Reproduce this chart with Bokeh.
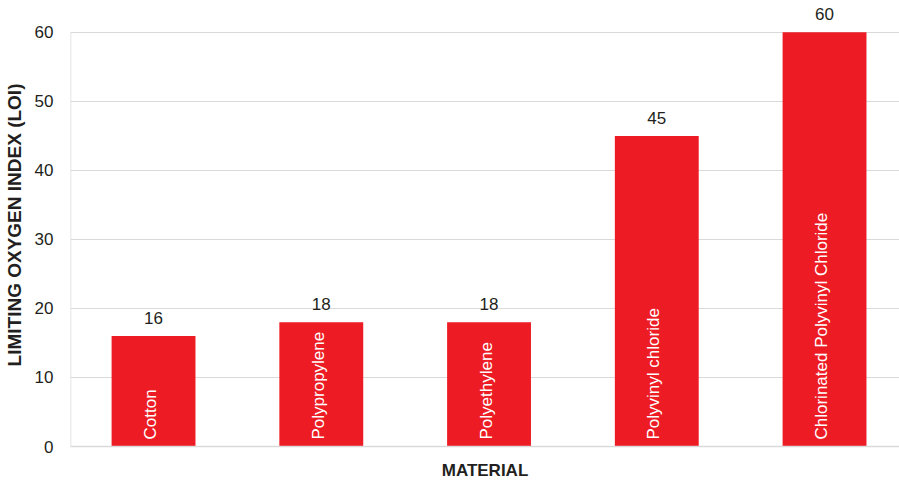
import math
from bokeh.plotting import figure
from bokeh.models import ColumnDataSource, LabelSet, Range1d, FixedTicker
from bokeh.core.properties import value
from bokeh.embed import file_html
from bokeh.resources import INLINE

materials = ["Cotton", "Polypropylene", "Polyethylene", "Polyvinyl chloride", "Chlorinated Polyvinyl Chloride"]
loi = [16, 18, 18, 45, 60]
y_ticks = [0, 10, 20, 30, 40, 50, 60]

RED = "#ED1C24"
TXT = "#231F20"
GRID = "#D9D9D9"
FONT = "Liberation Sans"

idx = list(range(len(materials)))
src = ColumnDataSource(dict(x=idx, top=loi, name=materials, lbl=[str(v) for v in loi], base=[0]*len(loi)))

x_start = -0.495
p = figure(width=899, height=483, output_backend="svg", toolbar_location=None,
           x_range=Range1d(x_start, x_start + 829/167.75), y_range=Range1d(0, 64.18),
           min_border_left=70, min_border_right=0, min_border_top=3, min_border_bottom=37)
p.outline_line_color = None
p.background_fill_color = "white"

p.vbar(x="x", top="top", width=0.5, source=src, fill_color=RED, line_color=None)
# left axis line, only up to the top tick
p.segment(x0=[x_start], y0=[y_ticks[0]], x1=[x_start], y1=[y_ticks[-1]], line_color=GRID, line_width=1.5)

p.add_layout(LabelSet(x="x", y="top", text="lbl", source=src, text_align="center",
                      text_baseline="bottom", y_offset=12, text_font=value(FONT),
                      text_font_size="17px", text_color=TXT))
p.add_layout(LabelSet(x="x", y="base", text="name", source=src, text_align="left",
                      text_baseline="middle", angle=math.pi/2, y_offset=7, x_offset=-3,
                      text_font=value(FONT), text_font_size="17px", text_color="white"))

p.xgrid.visible = False
p.ygrid.ticker = FixedTicker(ticks=y_ticks)
p.ygrid.grid_line_color = GRID
p.ygrid.grid_line_width = 1

ya = p.yaxis[0]
ya.ticker = FixedTicker(ticks=y_ticks)
ya.axis_line_color = None
ya.major_tick_line_color = None
ya.minor_tick_line_color = None
ya.major_label_text_font = FONT
ya.major_label_text_font_size = "17px"
ya.major_label_text_color = TXT
ya.major_label_standoff = 11
ya.axis_label = "LIMITING OXYGEN INDEX (LOI)"
ya.axis_label_text_font = FONT
ya.axis_label_text_font_style = "bold"
ya.axis_label_text_font_size = "19px"
ya.axis_label_text_color = TXT
ya.axis_label_standoff = 7

xa = p.xaxis[0]
xa.ticker = FixedTicker(ticks=[])
xa.axis_line_color = GRID
xa.axis_line_width = 1.5
xa.major_tick_line_color = None
xa.minor_tick_line_color = None
xa.major_label_text_font_size = "0px"
xa.axis_label = "MATERIAL"
xa.axis_label_text_font = FONT
xa.axis_label_text_font_style = "bold"
xa.axis_label_text_font_size = "17px"
xa.axis_label_text_color = TXT
xa.axis_label_standoff = 14

open("out.html", "w").write(file_html(p, INLINE))
